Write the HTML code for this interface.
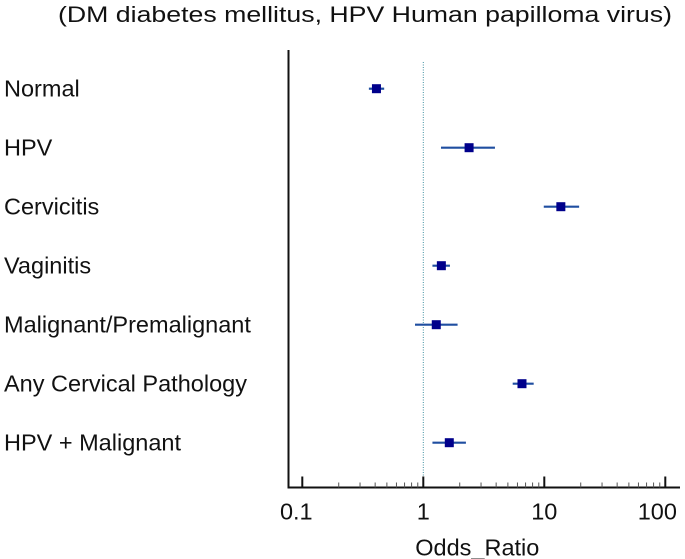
<!DOCTYPE html>
<html><head><meta charset="utf-8">
<style>
body{margin:0;background:#fff;}
svg{display:block;font-family:"Liberation Sans",Arial,sans-serif;}
</style></head>
<body>
<svg id="chart" width="685" height="559" viewBox="0 0 685 559">
<text x="365" y="22" font-size="22" text-anchor="middle" textLength="614" lengthAdjust="spacingAndGlyphs" fill="#111">(DM diabetes mellitus, HPV Human papilloma virus)</text>
<g id="plot"></g>
</svg>
<script>
const categories = ["Normal","HPV","Cervicitis","Vaginitis","Malignant/Premalignant","Any Cervical Pathology","HPV + Malignant"];
const oddsRatio = [0.41, 2.39, 13.7, 1.41, 1.28, 6.54, 1.64];
const ciLower = [0.355, 1.40, 9.9, 1.19, 0.854, 5.48, 1.19];
const ciUpper = [0.475, 3.91, 19.4, 1.66, 1.92, 8.17, 2.25];
const tickValues = [0.1, 1, 10, 100];
const tickLabels = ["0.1","1","10","100"];

const NS="http://www.w3.org/2000/svg";
const g=document.getElementById('plot');
const x0=423.3, dec=121;
function xs(v){return x0+Math.log10(v)*dec;}
const yTop=88.7, yStep=59;
function ys(i){return yTop+i*yStep;}
const axisY=487.5, spineX=288.5;
function mk(tag,attrs){const e=document.createElementNS(NS,tag);for(const k in attrs)e.setAttribute(k,attrs[k]);g.appendChild(e);return e;}

let ref=mk('line',{x1:xs(1),x2:xs(1),y1:62,y2:axisY,stroke:'#3f8fa0','stroke-width':1,'stroke-dasharray':'1,1.5'});



let sp=mk('line',{x1:spineX,x2:spineX,y1:50,y2:axisY+0.5,stroke:'#111','stroke-width':2});


let ax=mk('line',{x1:spineX-1,x2:680,y1:axisY,y2:axisY,stroke:'#111','stroke-width':2});



for(let d=-1;d<2;d++){
  for(let m=2;m<=9;m++){
    const v=Math.pow(10,d)*m;
    let t=mk('line',{x1:xs(v),x2:xs(v),y1:axisY-5,y2:axisY,stroke:'#555','stroke-width':1});
    
    
  }
}
tickValues.forEach((v,i)=>{
  let t=mk('line',{x1:xs(v),x2:xs(v),y1:axisY-11,y2:axisY,stroke:'#111','stroke-width':2});
  
  
  let lx=xs(v); if(i===0) lx+= -6; if(i===tickLabels.length-1) lx-=8;
  let l=mk('text',{x:lx,y:axisY+32,'font-size':23.5,'text-anchor':'middle',fill:'#111'});
  l.textContent=tickLabels[i];
  
  
});
let xt=mk('text',{x:xs(1)+54,y:axisY+68,'font-size':23.5,'text-anchor':'middle',fill:'#111'});
xt.textContent='Odds_Ratio';



categories.forEach((c,i)=>{
  const y=ys(i);
  let lab=mk('text',{x:4,y:y+8,'font-size':23.5,fill:'#111'});
  lab.textContent=c;
  
  
  let ci=mk('line',{x1:xs(ciLower[i]),x2:xs(ciUpper[i]),y1:y,y2:y,stroke:'#1f4ea0','stroke-width':2.2});
  
  
  let pt=mk('rect',{x:xs(oddsRatio[i])-4.5,y:y-4.5,width:9,height:9,fill:'#00008b'});
  
  
});
</script>
</body></html>
